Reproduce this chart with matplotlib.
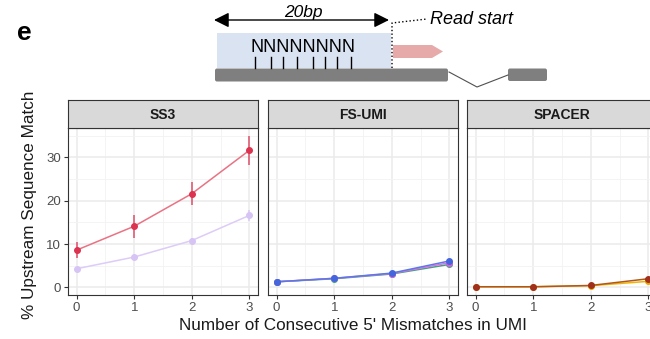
import numpy as np
import matplotlib
matplotlib.use("Agg")
import matplotlib.pyplot as plt
from matplotlib.patches import Rectangle, FancyBboxPatch, Polygon

plt.rcParams["font.family"] = ["Liberation Sans", "DejaVu Sans"]

# ---- data ----
MISMATCH = [0, 1, 2, 3]
PANELS = ["SS3", "FS-UMI", "SPACER"]

ss3_red = [8.6, 14.1, 21.6, 31.6]
ss3_red_lo = [6.8, 11.4, 18.9, 28.2]
ss3_red_hi = [10.5, 16.8, 24.3, 34.9]
ss3_lav = [4.3, 7.0, 10.8, 16.6]
ss3_lav_lo = [4.0, 6.6, 10.3, 15.4]
ss3_lav_hi = [4.6, 7.4, 11.3, 17.8]

fs_blue = [1.3, 2.1, 3.3, 6.1]
fs_pink = [1.3, 2.1, 3.2, 5.7]
fs_green = [1.3, 2.0, 3.1, 5.3]

sp_dark = [0.15, 0.15, 0.45, 2.0]
sp_yellow = [0.15, 0.15, 0.40, 1.4]

# series per panel: (values, lo, hi, line colour, point colour)
SERIES = {
    "SS3": [(ss3_lav, ss3_lav_lo, ss3_lav_hi, "#dcccf7", "#d6c4f5"),
            (ss3_red, ss3_red_lo, ss3_red_hi, "#e97384", "#dc3350")],
    "FS-UMI": [(fs_green, None, None, "#3fa37a", "#3fa37a"),
               (fs_pink, None, None, "#e070e8", "#d95fe0"),
               (fs_blue, None, None, "#5b78e6", "#4466dd")],
    "SPACER": [(sp_yellow, None, None, "#f0b400", "#e8a800"),
               (sp_dark, None, None, "#b0561c", "#a0301c")],
}

W, H = 650, 339
fig = plt.figure(figsize=(W / 100, H / 100), dpi=100)

def frac(x0, y0, x1, y1):
    # pixel box (top-left origin) -> figure fraction rect
    return [x0 / W, 1 - y1 / H, (x1 - x0) / W, (y1 - y0) / H]

# ---- schematic on top ----
ax0 = fig.add_axes([0, 0, 1, 1])
ax0.set_xlim(0, W); ax0.set_ylim(H, 0); ax0.axis("off")
ax0.text(24, 33, "e", fontsize=19, fontweight="bold", ha="center", va="center")
ax0.add_patch(Rectangle((217, 33), 174, 35, color="#dae3f2", lw=0))
ax0.add_patch(FancyBboxPatch((215, 68.5), 233, 13, boxstyle="round,pad=0,rounding_size=2",
                             color="#7f7f7f", lw=0))
ax0.add_patch(FancyBboxPatch((508, 68.5), 39, 12.5, boxstyle="round,pad=0,rounding_size=2",
                             color="#7f7f7f", lw=0))
ax0.plot([449, 477, 508], [72, 87, 75], color="#505050", lw=0.8)
ax0.add_patch(Polygon([(393, 45), (432, 45), (443, 51.5), (432, 58), (393, 58)],
                      closed=True, color="#e6aaaa", lw=0))
for xt in [255, 271, 283, 297, 313, 325, 337, 351]:
    ax0.plot([xt, xt], [57, 68], color="black", lw=1)
ax0.text(303, 47, "NNNNNNNN", fontsize=13, ha="center", va="center")
ax0.annotate("", xy=(389, 20), xytext=(214, 20),
             arrowprops=dict(arrowstyle="<|-|>,head_length=0.9,head_width=0.45",
                             color="black", lw=1, shrinkA=0, shrinkB=0))
ax0.text(303, 12, "20bp", fontsize=12.5, style="italic", ha="center", va="center")
ax0.plot([392, 392, 427], [68, 23, 19], color="black", lw=1, ls=":")
ax0.text(430, 19, "Read start", fontsize=13, style="italic", ha="left", va="center")

# ---- facet panels ----
lefts = [68, 268, 467]
for i, (name, x0) in enumerate(zip(PANELS, lefts)):
    x1 = x0 + 190
    ax = fig.add_axes(frac(x0, 128, x1, 295))
    ax.set_xlim(-0.15, 3.15)
    ax.set_ylim(-1.75, 36.75)
    ax.set_xticks(MISMATCH)
    ax.set_xticks([0.5, 1.5, 2.5], minor=True)
    ax.set_yticks([0, 10, 20, 30])
    ax.set_yticks([5, 15, 25, 35], minor=True)
    ax.grid(True, which="major", color="#ebebeb", lw=1.1)
    ax.grid(True, which="minor", color="#f3f3f3", lw=0.6)
    ax.set_axisbelow(True)
    for s in ax.spines.values():
        s.set_color("#333333"); s.set_linewidth(0.8)
    ax.tick_params(which="major", length=3, width=0.8, color="#333333",
                   labelcolor="#4d4d4d", labelsize=9.5, pad=2)
    ax.tick_params(which="minor", length=0)
    if i > 0:
        ax.set_yticklabels([])
        ax.tick_params(axis="y", which="major", length=0)
    for vals, lo, hi, lc, pc in SERIES[name]:
        if lo is not None:
            ax.vlines(MISMATCH, lo, hi, color=pc, lw=1.1, alpha=0.85)
        ax.plot(MISMATCH, vals, color=lc, lw=1.1)
        ax.plot(MISMATCH, vals, ls="none", marker="o", ms=4, color=pc)
    # strip
    sx = fig.add_axes(frac(x0, 100, x1, 128))
    sx.set_facecolor("#d9d9d9")
    sx.set_xticks([]); sx.set_yticks([])
    for s in sx.spines.values():
        s.set_color("#333333"); s.set_linewidth(0.8)
    sx.text(0.5, 0.47, name, transform=sx.transAxes, ha="center", va="center",
            fontsize=10, fontweight="bold", color="#1a1a1a")

fig.text(353 / W, 1 - 326 / H, "Number of Consecutive 5' Mismatches in UMI",
         ha="center", va="center", fontsize=12.3, color="#1a1a1a")
fig.text(30 / W, 1 - 205 / H, "% Upstream Sequence Match", rotation=90,
         ha="center", va="center", fontsize=12.3, color="#1a1a1a")

fig.savefig("out.png", dpi=100)
